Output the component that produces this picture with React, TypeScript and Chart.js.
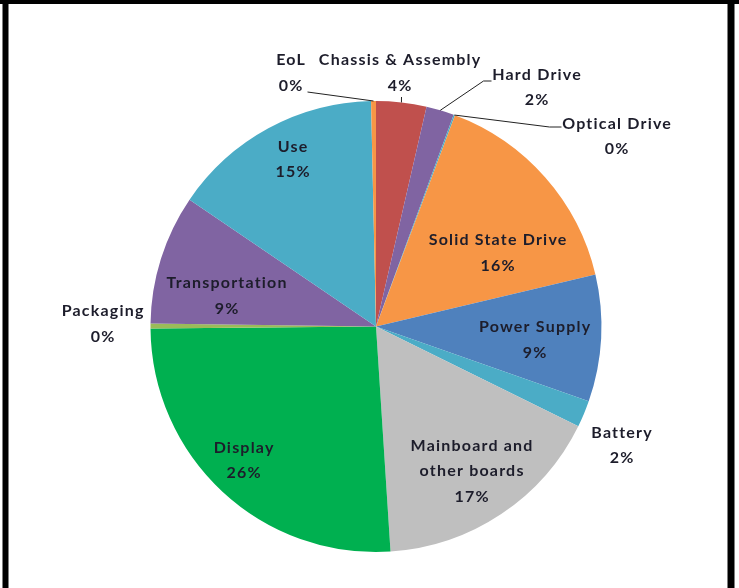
import React, { useEffect, useRef } from "react";
import { Chart, registerables } from "chart.js";

Chart.register(...registerables);

// ---- data ----
const categories = [
  "Chassis & Assembly",
  "Hard Drive",
  "Optical Drive",
  "Solid State Drive",
  "Power Supply",
  "Battery",
  "Mainboard and other boards",
  "Display",
  "Packaging",
  "Transportation",
  "Use",
  "EoL",
];
const labelLines = [
  ["Chassis & Assembly"],
  ["Hard Drive"],
  ["Optical Drive"],
  ["Solid State Drive"],
  ["Power Supply"],
  ["Battery"],
  ["Mainboard and", "other boards"],
  ["Display"],
  ["Packaging"],
  ["Transportation"],
  ["Use"],
  ["EoL"],
];
const shares = [3.6, 2.0, 0.1, 15.6, 9.1, 1.9, 16.7, 25.9, 0.35, 9.3, 15.15, 0.35];
const colors = [
  "#C0504D",
  "#8064A2",
  "#4BACC6",
  "#F79646",
  "#4F81BD",
  "#4BACC6",
  "#BFBFBF",
  "#00B050",
  "#9BBB59",
  "#8064A2",
  "#4BACC6",
  "#F79646",
];

// ---- layout (label block centres relative to pie centre, leader line points) ----
const labelOffsets: [number, number][] = [
  [23.5, -253.5],
  [160.5, -239],
  [240.5, -190],
  [121.5, -73.5],
  [158.5, 13.5],
  [245.5, 119],
  [95.5, 144.5],
  [-132.5, 134],
  [-273.5, -2.5],
  [-149.5, -30.5],
  [-83.5, -167],
  [-85.5, -253.5],
];
const leaders: ([number, number][] | null)[] = [
  [[25.5, -229.5]],
  [[107.5, -245.5], [115.5, -245.5]],
  [[173.5, -199.5], [185.5, -199.5]],
  null,
  null,
  null,
  null,
  null,
  null,
  null,
  null,
  [[-68.5, -234.5]],
];

const LINE_H = 25.5;
const FONT = "bold 16px Lato";
const LETTER_SPACING = 1.2;
const TEXT_COLOR = "#1d1d2b";

const overlayPlugin = {
  id: "overlay",
  afterDraw(chart: any) {
    const ctx = chart.ctx as CanvasRenderingContext2D;
    const meta = chart.getDatasetMeta(0);
    const total = shares.reduce((a, b) => a + b, 0);
    ctx.save();
    // leader lines
    ctx.strokeStyle = "#222";
    ctx.lineWidth = 1;
    meta.data.forEach((arc: any, i: number) => {
      const pts = leaders[i];
      if (!pts) return;
      const { x, y, startAngle, endAngle, outerRadius } = arc.getProps(
        ["x", "y", "startAngle", "endAngle", "outerRadius"],
        true
      );
      const mid = (startAngle + endAngle) / 2;
      ctx.beginPath();
      ctx.moveTo(x + Math.cos(mid) * outerRadius, y + Math.sin(mid) * outerRadius);
      pts.forEach(([dx, dy]) => ctx.lineTo(x + dx, y + dy));
      ctx.stroke();
    });
    // labels
    ctx.font = FONT;
    (ctx as any).letterSpacing = LETTER_SPACING + "px";
    ctx.fillStyle = TEXT_COLOR;
    ctx.textAlign = "left";
    ctx.textBaseline = "middle";
    meta.data.forEach((arc: any, i: number) => {
      const { x, y } = arc.getProps(["x", "y"], true);
      const lines = [...labelLines[i], Math.round((shares[i] / total) * 100) + "%"];
      const [ox, oy] = labelOffsets[i];
      const top = y + oy - ((lines.length - 1) * LINE_H) / 2;
      lines.forEach((t, k) => {
        const w = ctx.measureText(t).width - LETTER_SPACING;
        ctx.fillText(t, x + ox - w / 2, top + k * LINE_H);
      });
    });
    (ctx as any).letterSpacing = "0px";
    // frame
    ctx.fillStyle = "#000";
    ctx.fillRect(0, 0, chart.width, 4);
    ctx.fillRect(2.5, 0, 6, chart.height);
    ctx.fillRect(727.5, 0, 7, chart.height);
    ctx.restore();
  },
};

export default function App() {
  const ref = useRef<HTMLCanvasElement>(null);
  useEffect(() => {
    if (!ref.current) return;
    const chart = new Chart(ref.current, {
      type: "pie",
      data: {
        labels: categories,
        datasets: [
          {
            data: shares,
            backgroundColor: colors,
            borderWidth: 0,
          },
        ],
      },
      options: {
        responsive: false,
        animation: false,
        layout: { padding: { left: 150.5, right: 137.5, top: 100.5, bottom: 35.5 } },
        plugins: {
          legend: { display: false },
          tooltip: { enabled: false },
        },
      },
      plugins: [overlayPlugin],
    });
    return () => chart.destroy();
  }, []);
  return (
    <div style={{ position: "absolute", left: 0, top: 0, width: 739, height: 588, background: "#fff" }}>
      <canvas ref={ref} width={739} height={588} style={{ width: 739, height: 588, display: "block" }} />
    </div>
  );
}
